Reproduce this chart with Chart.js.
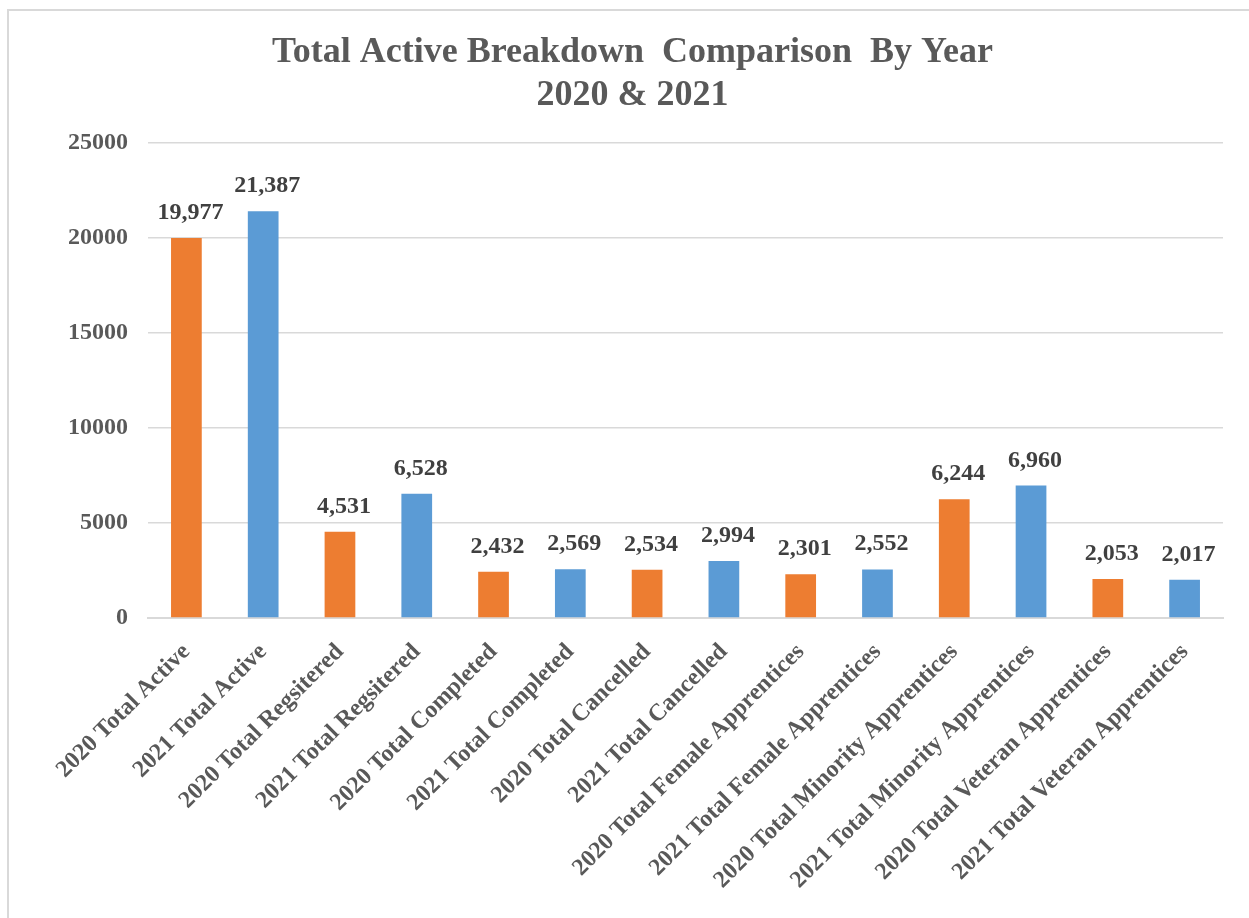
<!DOCTYPE html>
<html>
<head>
<meta charset="utf-8">
<title>Total Active Breakdown Comparison By Year</title>
<script src="https://cdn.jsdelivr.net/npm/chart.js@4/dist/chart.umd.min.js"></script>
<style>
	html, body { margin: 0; padding: 0; background: #fff; overflow: hidden; }
	#frame { position: absolute; left: 7px; top: 9px; width: 1300px; height: 1000px; border: 2px solid #d9d9d9; }
	#chart { position: absolute; left: 0; top: 0; }
</style>
</head>
<body>
<div id="frame"></div>
<canvas id="chart" width="1249" height="918"></canvas>
<script>
var categories = [
	'2020 Total Active', '2021 Total Active',
	'2020 Total Regsitered', '2021 Total Regsitered',
	'2020 Total Completed', '2021 Total Completed',
	'2020 Total Cancelled', '2021 Total Cancelled',
	'2020 Total Female Apprentices', '2021 Total Female Apprentices',
	'2020 Total Minority Apprentices', '2021 Total Minority Apprentices',
	'2020 Total Veteran Apprentices', '2021 Total Veteran Apprentices'
];
var values = [19977, 21387, 4531, 6528, 2432, 2569, 2534, 2994, 2301, 2552, 6244, 6960, 2053, 2017];
var yearColors = { '2020': '#ED7D31', '2021': '#5B9BD5' };
var titleLines = ['Total Active Breakdown  Comparison  By Year', '2020 & 2021'];

var serif = '"Liberation Serif", "Times New Roman", serif';

// value labels above each bar (no datalabels plugin available)
var barLabels = {
	id: 'barLabels',
	afterDatasetsDraw: function(chart) {
		var ctx = chart.ctx;
		var meta = chart.getDatasetMeta(0);
		ctx.save();
		ctx.font = 'bold 24px ' + serif;
		ctx.fillStyle = '#404040';
		ctx.textAlign = 'center';
		ctx.textBaseline = 'alphabetic';
		meta.data.forEach(function(bar, i) {
			ctx.fillText(values[i].toLocaleString('en-US'), bar.x + 4, bar.y - 19);
		});
		ctx.restore();
	}
};

new Chart(document.getElementById('chart'), {
	type: 'bar',
	data: {
		labels: categories,
		datasets: [{
			data: values,
			backgroundColor: categories.map(function(c) { return yearColors[c.slice(0, 4)]; }),
			barPercentage: 0.4,
			categoryPercentage: 1,
		}],
	},
	options: {
		responsive: false,
		animation: false,
		layout: { padding: { left: 42, right: 26, top: 0, bottom: 0 } },
		plugins: {
			legend: { display: false },
			tooltip: { enabled: false },
			title: {
				display: true,
				text: titleLines,
				color: '#595959',
				font: { family: serif, size: 36, weight: 'bold', lineHeight: 1.2 },
				padding: { top: 31, bottom: 25 },
			},
		},
		scales: {
			x: {
				grid: { display: false },
				border: { display: true, color: '#d9d9d9', width: 2 },
				ticks: {
					color: '#595959',
					font: { family: serif, size: 24, weight: 'bold' },
					maxRotation: 45,
					minRotation: 45,
					autoSkip: false,
					padding: 12,
				},
				afterFit: function(scale) { scale.height = 300; },
			},
			y: {
				min: 0,
				max: 25000,
				border: { display: false },
				grid: { color: '#d9d9d9', lineWidth: 1.5, drawTicks: false },
				ticks: {
					stepSize: 5000,
					color: '#595959',
					font: { family: serif, size: 24, weight: 'bold' },
					padding: 20,
					callback: function(v) { return String(v); },
				},
				afterFit: function(scale) { scale.width = 106; },
			},
		},
	},
	plugins: [barLabels],
});
</script>
</body>
</html>
